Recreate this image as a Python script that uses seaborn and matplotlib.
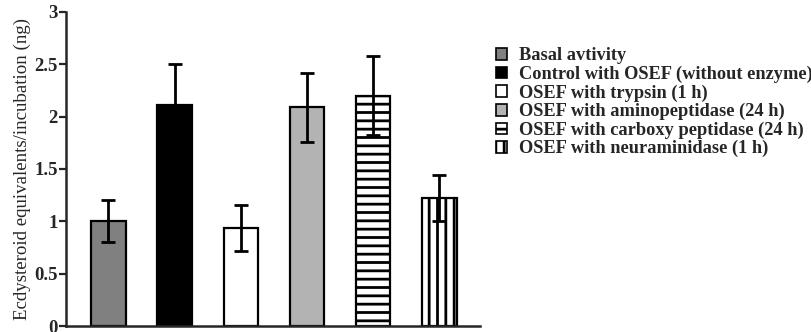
import matplotlib
matplotlib.use("Agg")
import matplotlib.pyplot as plt
from matplotlib.patches import Patch
import seaborn as sns
import pandas as pd

# Treatments and measured ecdysteroid output
treatments = [
    "Basal avtivity",
    "Control with OSEF (without enzyme)",
    "OSEF with trypsin (1 h)",
    "OSEF with aminopeptidase (24 h)",
    "OSEF with carboxy peptidase (24 h)",
    "OSEF with neuraminidase (1 h)",
]
means = [1.00, 2.11, 0.94, 2.09, 2.20, 1.22]
errors = [0.20, 0.39, 0.22, 0.33, 0.38, 0.22]

fills = ["#808080", "#000000", "#ffffff", "#b3b3b3", "#ffffff", "#ffffff"]
hatches = ["", "", "", "", "--", "||"]

SERIF = ["Liberation Serif", "DejaVu Serif"]

sns.set_style("ticks")
plt.rcParams["font.family"] = SERIF
plt.rcParams["hatch.linewidth"] = 2.0
plt.rcParams["hatch.color"] = "black"

df = pd.DataFrame({"treatment": treatments, "value": means})

fig = plt.figure(figsize=(8.12, 3.32), dpi=100)
ax = fig.add_axes([0.0813, 0.018, 0.5097, 0.946])

sns.barplot(data=df, x="treatment", y="value", hue="treatment",
            palette=dict(zip(treatments, fills)), order=treatments,
            hue_order=treatments, width=0.52, edgecolor="black",
            linewidth=1.6, legend=False, errorbar=None, ax=ax)

for bar, h in zip(ax.patches, hatches):
    bar.set_hatch(h)

ax.errorbar(range(len(treatments)), means, yerr=errors, fmt="none",
            ecolor="black", elinewidth=2.0, capsize=5, capthick=2.0, zorder=5)

ax.set_ylim(0, 3)
ax.set_xlim(-0.64, 5.61)
ax.set_yticks([0, 0.5, 1, 1.5, 2, 2.5, 3])
ax.set_yticklabels(["0", "0.5", "1", "1.5", "2", "2.5", "3"],
                   fontsize=13.5, fontweight="bold", family=SERIF)
ax.set_xticks([])
ax.set_xlabel("")
ax.set_ylabel("Ecdysteroid equivalents/incubation (ng)", fontsize=13.6,
              family=SERIF, labelpad=2)
ax.tick_params(axis="y", length=5, width=1.6, pad=1)
sns.despine(ax=ax)
for s in ("left", "bottom"):
    ax.spines[s].set_linewidth(1.8)

handles = [Patch(facecolor=c, edgecolor="black", hatch=h, linewidth=1.2)
           for c, h in zip(fills, hatches)]
fig.legend(handles, treatments, loc="upper left",
           bbox_to_anchor=(0.611, 0.857), frameon=False,
           prop={"family": SERIF, "weight": "bold", "size": 13.2},
           handlelength=0.6, handleheight=0.6, handletextpad=0.65,
           labelspacing=0.07, borderpad=0, borderaxespad=0)

fig.savefig("out.png", dpi=100)
